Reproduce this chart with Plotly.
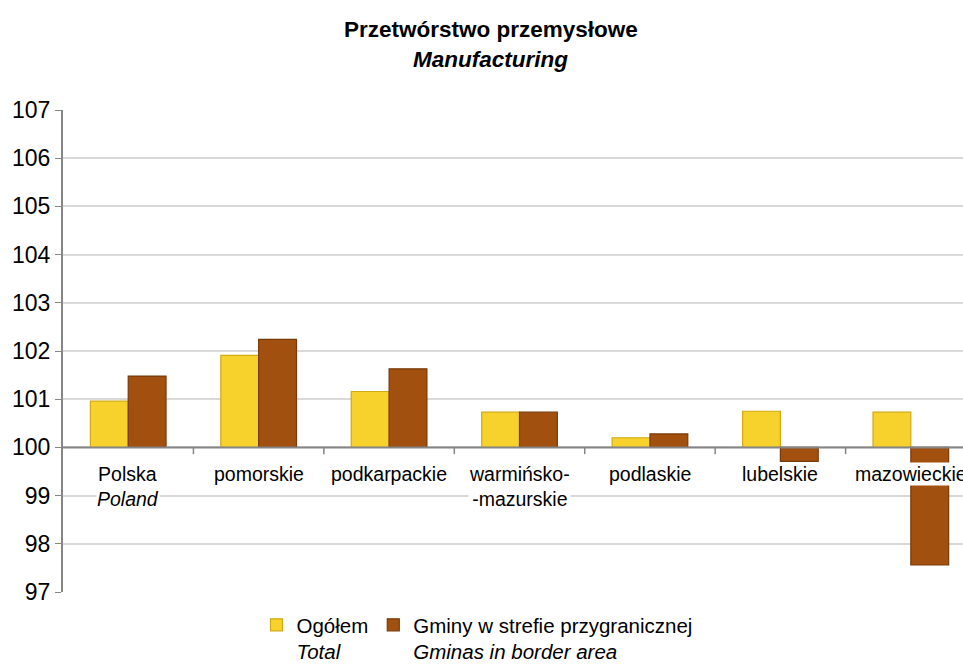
import plotly.graph_objects as go

categories = ["Polska<br><i>Poland</i>", "pomorskie", "podkarpackie",
              "warmińsko-<br>-mazurskie", "podlaskie", "lubelskie", "mazowieckie"]
ogolem = [100.96, 101.91, 101.16, 100.73, 100.20, 100.75, 100.73]
gminy = [101.48, 102.24, 101.63, 100.73, 100.28, 99.71, 97.56]
y_ticks = [97, 98, 99, 100, 101, 102, 103, 104, 105, 106, 107]

BASE = 100
FONT = "Liberation Sans, Arial, sans-serif"
xs = list(range(len(categories)))

fig = go.Figure()
fig.add_trace(go.Bar(
    x=xs, y=[v - BASE for v in ogolem], base=BASE,
    name="Ogółem<br><i>Total</i>",
    marker=dict(color="#F7D22C", line=dict(color="#D1A915", width=1.2)),
))
fig.add_trace(go.Bar(
    x=xs, y=[v - BASE for v in gminy], base=BASE,
    name="Gminy w strefie przygranicznej<br><i>Gminas in border area</i>",
    marker=dict(color="#A2500F", line=dict(color="#7A3A08", width=1.2)),
))

# category axis drawn at 100
fig.add_shape(type="line", xref="paper", yref="y", x0=0, x1=1, y0=BASE, y1=BASE,
              line=dict(color="#858585", width=2))
for i in xs[:-1]:
    fig.add_shape(type="line", xref="x", yref="y", x0=i + 0.5, x1=i + 0.5,
                  y0=BASE, y1=BASE - 0.14, line=dict(color="#858585", width=1.5))

for i, lab in enumerate(categories):
    fig.add_annotation(x=i, y=BASE - 0.3, xref="x", yref="y", text=lab,
                       showarrow=False, yanchor="top", bgcolor="white", borderpad=0,
                       font=dict(family=FONT, size=19.5, color="#000"))

# title lines
fig.add_annotation(x=0.475, y=1.166, xref="paper", yref="paper", yanchor="middle",
                   text="<b>Przetwórstwo przemysłowe</b>", showarrow=False,
                   font=dict(family=FONT, size=22.5, color="#000"))
fig.add_annotation(x=0.475, y=1.104, xref="paper", yref="paper", yanchor="middle",
                   text="<b><i>Manufacturing</i></b>", showarrow=False,
                   font=dict(family=FONT, size=22.5, color="#000"))

fig.update_layout(
    width=963, height=665,
    margin=dict(l=63, r=0, t=110, b=73, autoexpand=False),
    paper_bgcolor="white", plot_bgcolor="white",
    barmode="group", bargap=0.42, bargroupgap=0,
    font=dict(family=FONT, size=20, color="#000"),
    xaxis=dict(range=[-0.5, 6.4], showticklabels=False, showgrid=False,
               zeroline=False, showline=False, fixedrange=True),
    yaxis=dict(range=[97, 107], tickvals=y_ticks, showgrid=True,
               gridcolor="#D9D9D9", gridwidth=1.5, zeroline=False,
               showline=True, linecolor="#868686", linewidth=2,
               ticks="outside", ticklen=6, tickcolor="#868686",
               tickfont=dict(family=FONT, size=23, color="#000")),
    legend=dict(orientation="h", x=0.46, xanchor="center", y=-0.027, yanchor="top",
                valign="top", font=dict(family=FONT, size=20.5, color="#000"),
                itemwidth=30, tracegroupgap=0),
    showlegend=True,
)

# drop the default page margin so the figure fills the window exactly
fig.write_html("out.html", config={"displayModeBar": False},
               post_script="document.body.style.margin='0';document.body.style.overflow='hidden';")
